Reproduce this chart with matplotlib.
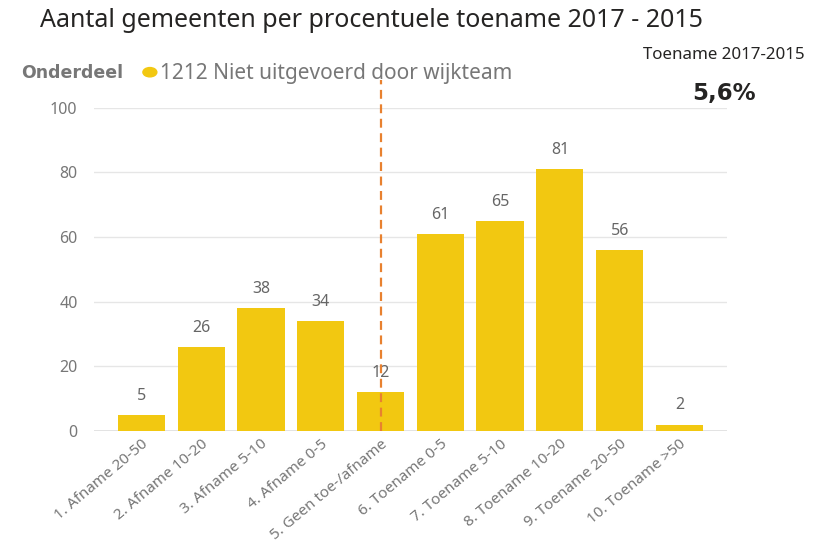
import matplotlib.pyplot as plt
import numpy as np

categories = ["1. Afname 20-50", "2. Afname 10-20", "3. Afname 5-10", "4. Afname 0-5",
              "5. Geen toe-/afname", "6. Toename 0-5", "7. Toename 5-10",
              "8. Toename 10-20", "9. Toename 20-50", "10. Toename >50"]
values = [5, 26, 38, 34, 12, 61, 65, 81, 56, 2]
y_ticks = [0, 20, 40, 60, 80, 100]
marker_category = 4  # vertical dashed line
card_label = "Toename 2017-2015"
card_value = "5,6%"

bar_color = "#F2C811"
line_color = "#E8812F"
grey = "#777777"

plt.rcParams["font.family"] = ["Noto Sans", "DejaVu Sans"]

fig = plt.figure(figsize=(8.19, 5.47), dpi=100)
ax = fig.add_axes([0.115, 0.212, 0.773, 0.591])

x = np.arange(len(categories))
ax.bar(x, values, width=0.79, color=bar_color, zorder=2)
for xi, v in zip(x, values):
    ax.text(xi, v + 3.5, str(v), ha="center", va="bottom", fontsize=11.5, color="#666666")

ax.set_xlim(-0.79, len(categories) - 0.2)
ax.set_ylim(0, 100)
ax.set_yticks(y_ticks)
ax.set_yticklabels([str(t) for t in y_ticks], fontsize=11.5, color=grey)
ax.set_xticks(x)
ax.set_xticklabels(categories, rotation=40, ha="right", rotation_mode="anchor",
                   fontsize=11, color=grey)
ax.tick_params(length=0, pad=4)
ax.tick_params(axis="y", pad=12)
ax.grid(axis="y", color="#E6E6E6", linewidth=1, zorder=0)
for s in ax.spines.values():
    s.set_visible(False)
ax.axhline(0, color="#E0E0E0", linewidth=2, zorder=1)

ax.axvline(marker_category, ymin=0, ymax=1.085, color=line_color, linestyle=(0, (4, 2.5)),
           linewidth=1.6, clip_on=False, zorder=3)

fig.text(0.049, 0.962, "Aantal gemeenten per procentuele toename 2017 - 2015",
         fontsize=18, color="#252423", va="center", ha="left")
fig.text(0.026, 0.866, "Onderdeel", fontsize=12.5, fontweight="bold", color=grey,
         family="DejaVu Sans", va="center", ha="left")
fig.add_artist(plt.Circle((0.183, 0.868), 0.0085, transform=fig.transFigure,
                          color=bar_color))
fig.text(0.195, 0.866, "1212 Niet uitgevoerd door wijkteam", fontsize=15,
         color=grey, va="center", ha="left")

fig.text(0.884, 0.899, card_label, fontsize=12.2, color="#252423", ha="center", va="center")
fig.text(0.884, 0.829, card_value, fontsize=16.5, fontweight="bold", color="#252423",
         family="DejaVu Sans", ha="center", va="center")

fig.savefig("out.png", dpi=100)
